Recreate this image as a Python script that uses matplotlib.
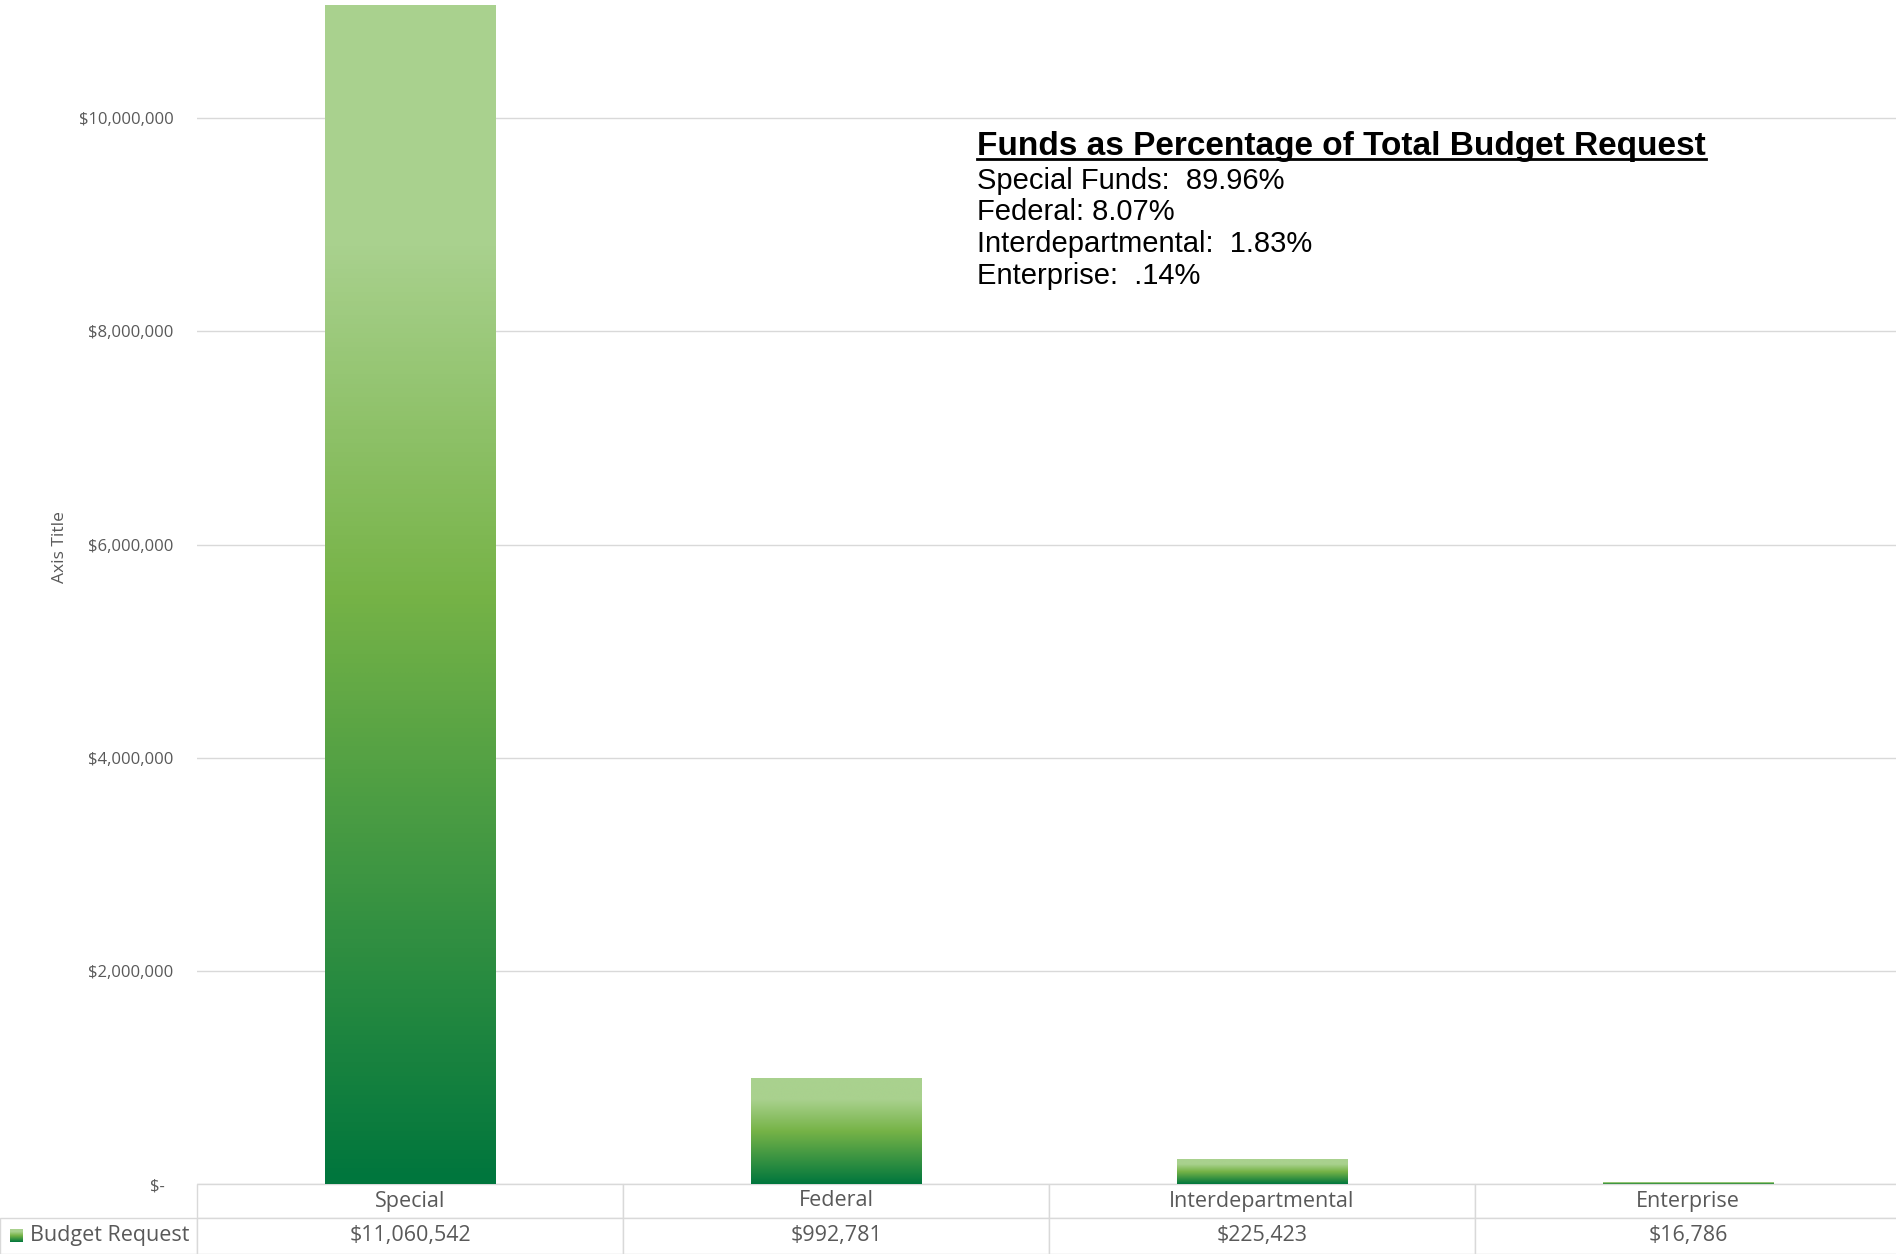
import numpy as np
import matplotlib
matplotlib.use('Agg')
import matplotlib.pyplot as plt
from matplotlib.colors import LinearSegmentedColormap
from matplotlib.lines import Line2D
from matplotlib.table import Table

# chart data
CATEGORIES = ['Special', 'Federal', 'Interdepartmental', 'Enterprise']
BUDGET = [11060542, 992781, 225423, 16786]
SERIES_NAME = 'Budget Request'
Y_TICKS = [0, 2000000, 4000000, 6000000, 8000000, 10000000]

# text box in the upper right
NOTE_TITLE = 'Funds as Percentage of Total Budget Request'
NOTE_LINES = ['Special Funds:  89.96%', 'Federal: 8.07%',
              'Interdepartmental:  1.83%', 'Enterprise:  .14%']

GRAY = '#595959'
GRID = '#d9d9d9'
W, H = 1896, 1254
UI_FONT = 'Open Sans'

green = LinearSegmentedColormap.from_list(
    'excel_green', [(0.0, '#00763d'), (0.5, '#76b347'), (0.8, '#a9d18e'), (1.0, '#a9d18e')])
grad = np.linspace(0, 1, 256).reshape(-1, 1)


def money(v, pos=None):
    if v == 0:
        return '$-  '
    return f'${v:,.0f}'


def main():
    fig = plt.figure(figsize=(W / 100, H / 100), dpi=100)
    # plot area: left edge at the table, top cut at the figure edge
    left, bottom = 197, 70
    ax = fig.add_axes([left / W, bottom / H, (W - left) / W, (H - bottom) / H])

    col_px = 426
    xmax = -0.5 + (W - left) / col_px
    ymax = 11.11e6

    bars = ax.bar(range(len(CATEGORIES)), BUDGET, width=0.4,
                  facecolor='none', edgecolor='none')
    # vertical gradient fill for every bar
    for b in bars:
        x0, w, h = b.get_x(), b.get_width(), b.get_height()
        ax.imshow(grad, cmap=green, origin='lower', aspect='auto',
                  extent=[x0, x0 + w, 0, h], zorder=2, interpolation='bilinear')

    ax.set_xlim(-0.5, xmax)
    ax.set_ylim(0, ymax)
    ax.set_axisbelow(True)
    ax.yaxis.grid(True, color=GRID, linewidth=1)
    ax.set_yticks(Y_TICKS)
    ax.yaxis.set_major_formatter(plt.FuncFormatter(money))
    ax.tick_params(axis='y', length=0, pad=17, labelsize=12, labelcolor=GRAY)
    for lab in ax.get_yticklabels():
        lab.set_family(UI_FONT)
    ax.set_xticks([])
    for s in ax.spines.values():
        s.set_visible(False)

    ax.set_ylabel('Axis Title', fontsize=12.5, color=GRAY, family=UI_FONT)
    ax.yaxis.set_label_coords((68 - left) / (W - left), (1184 - 547) / 1184)

    # data table under the plot (bbox covers the data columns only)
    ax_w, ax_h = W - left, H - bottom
    tbl = Table(ax, bbox=[0, -bottom / ax_h, col_px * len(CATEGORIES) / ax_w, bottom / ax_h])
    for j, (cat, val) in enumerate(zip(CATEGORIES, BUDGET)):
        tbl.add_cell(0, j, width=col_px, height=34, text=cat, loc='center')
        tbl.add_cell(1, j, width=col_px, height=36, text=f'${val:,}', loc='center')
    lab_cell = tbl.add_cell(1, -1, width=left, height=36, text=SERIES_NAME, loc='left')
    lab_cell.PAD = 30 / left
    tbl.auto_set_font_size(False)
    tbl.set_fontsize(15.5)
    for cell in tbl.get_celld().values():
        cell.set_edgecolor(GRID)
        cell.set_linewidth(1)
        cell.get_text().set_color(GRAY)
        cell.get_text().set_family(UI_FONT)
    tbl.set_clip_on(False)
    ax.add_table(tbl)

    # legend key in the row label cell
    key = fig.add_axes([10 / W, 12 / H, 13 / W, 13 / H])
    key.imshow(grad, cmap=green, origin='lower', aspect='auto')
    key.axis('off')

    # note text
    fam = ['Liberation Sans', 'DejaVu Sans']
    tx = 977
    title = fig.text(tx / W, (H - 155) / H, NOTE_TITLE, fontsize=24,
                     fontweight='bold', family=fam, va='baseline')
    for i, line in enumerate(NOTE_LINES):
        fig.text(tx / W, (H - 189 - 31.5 * i) / H, line, fontsize=21,
                 family=fam, va='baseline')

    fig.canvas.draw()
    bb = title.get_window_extent()
    uy = (H - 159) / H
    fig.add_artist(Line2D([bb.x0 / W, bb.x1 / W], [uy, uy], color='black',
                          linewidth=2, transform=fig.transFigure))

    fig.savefig('out.png', dpi=100, facecolor='white')


if __name__ == '__main__':
    main()
